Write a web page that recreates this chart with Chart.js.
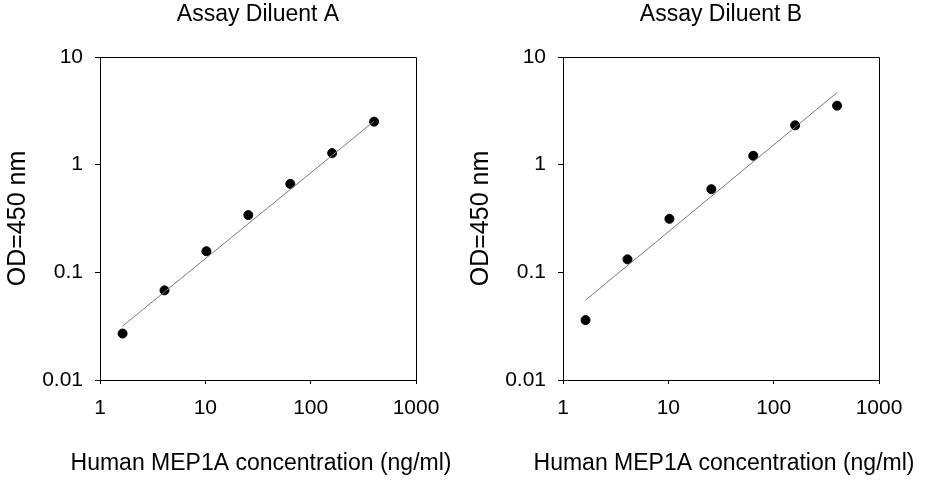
<!DOCTYPE html>
<html>
<head>
<meta charset="utf-8">
<script src="https://cdn.jsdelivr.net/npm/chart.js@4.4.1/dist/chart.umd.min.js"></script>
<style>
  html, body { margin: 0; padding: 0; background: #fff; }
  #wrap { display: flex; width: 926px; height: 480px; }
  canvas { display: block; }
</style>
</head>
<body>
<div id="wrap">
  <canvas id="chartA" width="463" height="480"></canvas>
  <canvas id="chartB" width="463" height="480"></canvas>
</div>
<script>
// Standard concentrations (ng/ml)
const concentrations = [1.6384, 4.096, 10.24, 25.6, 64, 160, 400];

const odDiluentA = [0.027, 0.068, 0.157, 0.340, 0.663, 1.28, 2.51];
const odDiluentB = [0.036, 0.132, 0.314, 0.592, 1.21, 2.32, 3.53];

// Fitted line end points (x, y)
const fitA = [[1.6384, 0.0317], [400, 2.53]];
const fitB = [[1.6384, 0.0552], [400, 4.67]];

// Axis ticks
const xTicks = [1, 10, 100, 1000];
const yTicks = [0.01, 0.1, 1, 10];

const xTitle = 'Human MEP1A concentration (ng/ml)';

const FONT = "'Liberation Sans', Arial, sans-serif";

// top and right side of the frame, plus the x title (not squeezed to the axis width)
const framePlugin = {
  id: 'frame',
  afterDraw(chart) {
    const { ctx, chartArea: a } = chart;
    ctx.save();
    ctx.strokeStyle = '#000';
    ctx.lineWidth = 1;
    ctx.beginPath();
    ctx.moveTo(a.left, a.top + 0.5);
    ctx.lineTo(a.right + 0.5, a.top + 0.5);
    ctx.lineTo(a.right + 0.5, a.bottom);
    ctx.stroke();

    ctx.fillStyle = '#000';
    ctx.font = '23px ' + FONT;
    ctx.textAlign = 'center';
    ctx.textBaseline = 'middle';
    ctx.fillText(xTitle, (a.left + a.right) / 2 + 3, 464);
    ctx.restore();
  }
};

function makeChart(id, title, od, fit) {
  const points = concentrations.map((c, i) => ({ x: c, y: od[i] }));
  const line = fit.map(p => ({ x: p[0], y: p[1] }));

  return new Chart(document.getElementById(id), {
    type: 'scatter',
    data: {
      datasets: [
        {
          data: line,
          showLine: true,
          borderColor: '#7a7a7a',
          borderWidth: 1,
          pointRadius: 0
        },
        {
          data: points,
          backgroundColor: '#000',
          borderColor: '#000',
          pointRadius: 4.5,
          pointHoverRadius: 4.5
        }
      ]
    },
    options: {
      responsive: false,
      animation: false,
      layout: { padding: { left: 0, right: 47, top: 0, bottom: 0 } },
      plugins: {
        legend: { display: false },
        tooltip: { enabled: false },
        title: {
          display: true,
          text: title,
          fullSize: false,
          color: '#000',
          font: { family: FONT, size: 23, weight: 'normal' },
          padding: { top: 1, bottom: 28.4 }
        }
      },
      scales: {
        x: {
          type: 'logarithmic',
          min: 1,
          max: 1000,
          afterBuildTicks: s => { s.ticks = xTicks.map(v => ({ value: v })); },
          afterFit: s => { s.height = 100; },
          border: { display: true, color: '#000', width: 1 },
          grid: { drawOnChartArea: false, drawTicks: true, tickLength: 4, color: '#000' },
          ticks: {
            color: '#000',
            padding: 12,
            maxRotation: 0,
            font: { family: FONT, size: 21 },
            callback: v => String(v)
          }
        },
        y: {
          type: 'logarithmic',
          min: 0.01,
          max: 10,
          afterBuildTicks: s => { s.ticks = yTicks.map(v => ({ value: v })); },
          afterFit: s => { s.width = 100; },
          border: { display: true, color: '#000', width: 1 },
          grid: { drawOnChartArea: false, drawTicks: true, tickLength: 5, color: '#000' },
          ticks: {
            color: '#000',
            padding: 12,
            font: { family: FONT, size: 21 },
            callback: v => String(v)
          },
          title: {
            display: true,
            text: 'OD=450 nm',
            color: '#000',
            font: { family: FONT, size: 25 },
            padding: { top: 3, bottom: 0 }
          }
        }
      }
    },
    plugins: [framePlugin]
  });
}

makeChart('chartA', 'Assay Diluent A', odDiluentA, fitA);
makeChart('chartB', 'Assay Diluent B', odDiluentB, fitB);
</script>
</body>
</html>
